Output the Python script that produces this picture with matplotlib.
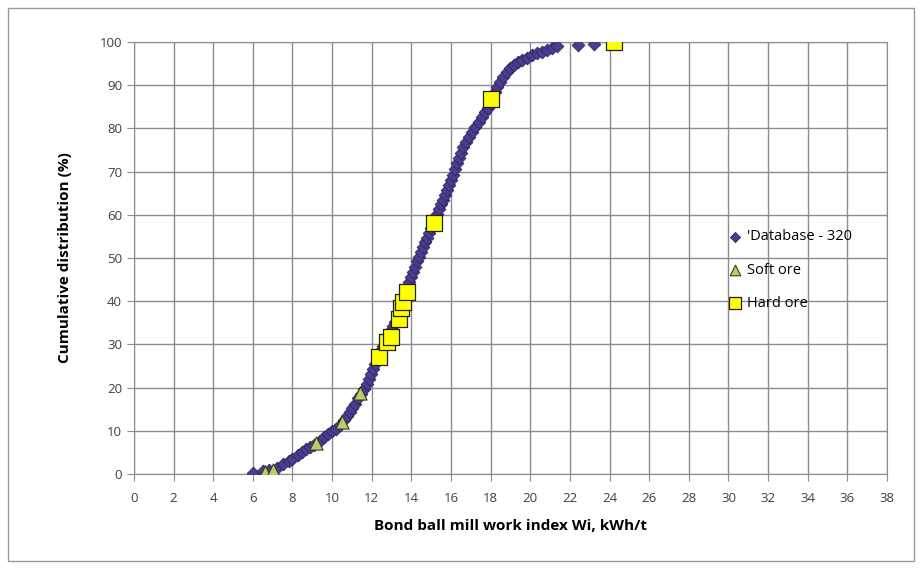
import matplotlib
matplotlib.use("Agg")
import matplotlib.pyplot as plt
from matplotlib.patches import Rectangle

# Database - 320 (work index, cumulative %)
db_wi = [6.0, 6.5, 6.8, 7.2, 7.5, 7.8, 8.0, 8.3, 8.5, 8.7, 8.9, 9.1, 9.4, 9.6, 9.8,
         10.0, 10.2, 10.4, 10.6, 10.75, 10.9, 11.0, 11.15, 11.3, 11.45, 11.6, 11.75,
         11.85, 11.95, 12.05, 12.15, 12.25, 12.35, 12.45, 12.55, 12.65, 12.75, 12.85,
         12.95, 13.05, 13.15, 13.25, 13.35, 13.45, 13.55, 13.65, 13.72, 13.8, 13.9,
         14.0, 14.1, 14.2, 14.3, 14.4, 14.5, 14.6, 14.7, 14.8, 14.9, 15.0, 15.1, 15.2,
         15.3, 15.4, 15.5, 15.6, 15.7, 15.8, 15.9, 16.0, 16.1, 16.2, 16.3, 16.4, 16.5,
         16.6, 16.75, 16.9, 17.05, 17.2, 17.4, 17.55, 17.7, 17.85, 18.0, 18.1, 18.2,
         18.3, 18.45, 18.6, 18.8, 19.0, 19.2, 19.4, 19.6, 19.85, 20.1, 20.35, 20.6,
         20.85, 21.1, 21.35, 22.4, 23.2]
db_cum = [0.3, 0.6, 0.9, 1.5, 2.2, 2.9, 3.4, 4.3, 5.0, 5.7, 6.3, 6.8, 7.7, 8.5, 9.3,
          9.9, 10.4, 11.3, 12.4, 13.4, 14.3, 15.2, 16.3, 17.5, 18.6, 19.7, 20.8,
          22.0, 23.2, 24.3, 25.5, 26.6, 27.7, 28.7, 29.6, 30.6, 31.5, 32.4,
          33.3, 34.2, 35.1, 36.0, 37.0, 38.0, 39.2, 40.5, 41.8, 43.1, 44.4,
          45.6, 46.8, 48.0, 49.2, 50.3, 51.4, 52.5, 53.6, 54.7, 55.8, 56.9, 58.0, 59.1,
          60.2, 61.3, 62.4, 63.5, 64.6, 65.7, 66.8, 68.0, 69.3, 70.6, 71.9, 73.2, 74.4,
          75.6, 76.8, 78.0, 79.2, 80.3, 81.5, 82.6, 83.7, 84.8, 86.0, 87.2, 88.4,
          89.6, 90.8, 92.0, 93.0, 93.9, 94.7, 95.3, 95.9, 96.4, 96.9, 97.4, 97.8,
          98.2, 98.6, 99.0, 99.3, 99.5]

soft_wi = [6.6, 7.0, 9.2, 10.5, 11.4]
soft_cum = [0.5, 1.0, 7.2, 12.0, 18.7]

hard_wi = [12.35, 12.75, 12.95, 13.35, 13.5, 13.6, 13.77, 15.15, 18.0, 24.2]
hard_cum = [27.1, 30.6, 31.7, 35.9, 38.4, 39.8, 42.1, 58.1, 86.8, 100.0]

plt.rcParams['font.family'] = ['Open Sans', 'DejaVu Sans']

fig = plt.figure(figsize=(9.22, 5.68), dpi=100)
fig.patches.append(Rectangle((0.009, 0.012), 0.982, 0.974, transform=fig.transFigure,
                             fill=False, edgecolor='#9a9a9a', linewidth=1))
ax = fig.add_axes([0.1453, 0.1655, 0.8167, 0.7605])

ax.scatter(db_wi, db_cum, marker='D', s=42, color='#4a3d8f', edgecolors='#2e2560',
           linewidths=0.6, zorder=3, label="'Database - 320")
ax.scatter(soft_wi, soft_cum, marker='^', s=90, color='#bccb6c', edgecolors='#3a3a1a',
           linewidths=0.8, zorder=4, label='Soft ore')
ax.scatter(hard_wi, hard_cum, marker='s', s=135, color='#ffff00', edgecolors='#202020',
           linewidths=0.9, zorder=5, label='Hard ore')

ax.set_xlim(0, 38)
ax.set_ylim(0, 100)
ax.set_xticks(range(0, 39, 2))
ax.set_yticks(range(0, 101, 10))
ax.grid(True, color='#8c8c8c', linewidth=1)
ax.set_axisbelow(True)
for s in ax.spines.values():
    s.set_color('#8c8c8c')
ax.tick_params(colors='#8c8c8c', labelcolor='#404040', labelsize=9.5, length=5)
ax.tick_params(axis='x', pad=8)

ax.set_xlabel('Bond ball mill work index Wi, kWh/t', fontsize=11, fontweight='bold',
              labelpad=10)
ax.set_ylabel('Cumulative distribution (%)', fontsize=11, fontweight='bold', labelpad=20)

leg = ax.legend(loc='center left', bbox_to_anchor=(0.779, 0.472), frameon=False,
                fontsize=10.5, handletextpad=0.3, handlelength=1.0, labelspacing=1.25,
                borderpad=0, scatterpoints=1, markerscale=0.8)

fig.savefig('out.png', dpi=100)
